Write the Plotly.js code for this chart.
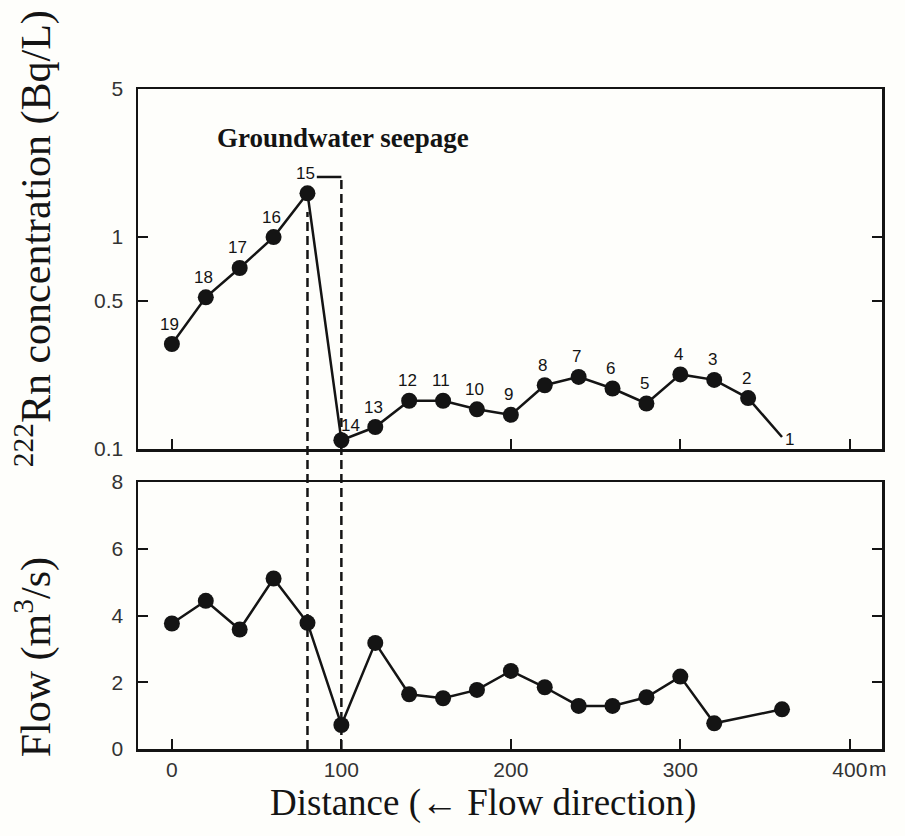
<!DOCTYPE html>
<html>
<head>
<meta charset="utf-8">
<script src="https://cdn.plot.ly/plotly-3.0.1.min.js"></script>
<style>html,body{margin:0;padding:0;background:#fefefb;}#chart{width:905px;height:836px;}</style>
</head>
<body>
<div id="chart"></div>
<script>
// ---- data ----
const distance = [0, 20, 40, 60, 80, 100, 120, 140, 160, 180, 200, 220, 240, 260, 280, 300, 320, 340, 360];
const stations = ['19','18','17','16','15','14','13','12','11','10','9','8','7','6','5','4','3','2','1'];
const radon = [0.313, 0.52, 0.715, 1.0, 1.61, 0.11, 0.127, 0.169, 0.169, 0.154, 0.145, 0.200, 0.219, 0.193, 0.164, 0.225, 0.212, 0.174, 0.114];

const flowDistance = [0, 20, 40, 60, 80, 100, 120, 140, 160, 180, 200, 220, 240, 260, 280, 300, 320, 360];
const flow = [3.76, 4.44, 3.58, 5.11, 3.78, 0.72, 3.18, 1.64, 1.52, 1.77, 2.34, 1.85, 1.29, 1.29, 1.55, 2.17, 0.77, 1.19];

const xTickVals = [0, 100, 200, 300, 400];
const xTickText = ['0', '100', '200', '300', '400'];
const rnTickVals = [0.1, 0.5, 1, 5];
const rnTickText = ['0.1', '0.5', '1', '5'];
const flowTickVals = [0, 2, 4, 6, 8];
const flowTickText = ['0', '2', '4', '6', '8'];

const seepageStart = distance[4];  // station 15
const seepageEnd = distance[5];    // station 14

// ---- styles ----
const ink = '#141414';
const serif = 'Liberation Serif, Times New Roman, serif';
const sans = 'Liberation Sans, Arial, sans-serif';
const narrow = 'Liberation Sans Narrow, Liberation Sans, Arial, sans-serif';

// marker on every station except the last one (line end only)
const rnMarkerSize = stations.map((s, i) => i === stations.length - 1 ? 0 : 16);

const traces = [
  {
    x: distance, y: radon, xaxis: 'x2', yaxis: 'y', type: 'scatter', mode: 'lines+markers',
    line: {color: ink, width: 2.5}, marker: {color: ink, size: rnMarkerSize, opacity: 1, line: {width: 0}},
    hoverinfo: 'x+y', showlegend: false, cliponaxis: false
  },
  {
    x: flowDistance, y: flow, xaxis: 'x', yaxis: 'y2', type: 'scatter', mode: 'lines+markers',
    line: {color: ink, width: 2.5}, marker: {color: ink, size: 16, opacity: 1},
    hoverinfo: 'x+y', showlegend: false
  }
];

const axisCommon = {
  showgrid: false, zeroline: false, showline: true, linecolor: ink, linewidth: 2.5,
  ticks: 'inside', ticklen: 10, tickwidth: 2, tickcolor: ink,
  tickfont: {family: sans, size: 21, color: '#333333'}
};

// station number labels
const stationAnnotations = stations.map((s, i) => {
  let xs = -2, ys = 20;
  if (s === '14') { xs = 9; ys = 15; }
  if (s === '1') { xs = 7; ys = -3; }
  return {
    x: distance[i], y: Math.log10(radon[i]), xref: 'x2', yref: 'y', text: s, showarrow: false,
    xshift: xs, yshift: ys, font: {family: narrow, size: 17, color: ink}
  };
});

const layout = {
  width: 905, height: 836,
  margin: {l: 138, r: 23, t: 89, b: 87},
  paper_bgcolor: '#fefefb', plot_bgcolor: '#fefefb',
  showlegend: false,
  xaxis: Object.assign({}, axisCommon, {
    domain: [0, 1], anchor: 'y2', range: [-20, 419], mirror: true,
    tickmode: 'array', tickvals: xTickVals, ticktext: xTickText, ticklabelstandoff: 0
  }),
  xaxis2: Object.assign({}, axisCommon, {
    domain: [0, 1], anchor: 'y', range: [-20, 419], matches: 'x', mirror: true,
    tickmode: 'array', tickvals: xTickVals, showticklabels: false
  }),
  yaxis: Object.assign({}, axisCommon, {
    domain: [0.4545, 1], anchor: 'x2', type: 'log', range: [-1, Math.log10(5)], mirror: 'ticks',
    tickmode: 'array', tickvals: rnTickVals, ticktext: rnTickText, ticklabelstandoff: 8
  }),
  yaxis2: Object.assign({}, axisCommon, {
    domain: [0, 0.4045], anchor: 'x', range: [0, 8], mirror: 'ticks',
    tickmode: 'array', tickvals: flowTickVals, ticktext: flowTickText, ticklabelstandoff: 8
  }),
  shapes: [
    {type: 'line', xref: 'x', yref: 'paper', x0: seepageStart, x1: seepageStart, y0: 0, y1: 0.8136,
     line: {color: ink, width: 2.5, dash: '9px,5px'}, layer: 'below'},
    {type: 'line', xref: 'x', yref: 'paper', x0: seepageEnd, x1: seepageEnd, y0: 0, y1: 0.8667,
     line: {color: ink, width: 2.5, dash: '9px,5px'}, layer: 'below'},
    {type: 'line', xref: 'x', yref: 'paper', x0: 85.5, x1: seepageEnd, y0: 0.8667, y1: 0.8667,
     line: {color: ink, width: 2.5}, layer: 'below'}
  ],
  annotations: stationAnnotations.concat([
    {xref: 'paper', yref: 'paper', x: 0.2755, y: 0.9258, text: 'Groundwater seepage', showarrow: false,
     xanchor: 'center', yanchor: 'middle', font: {family: serif, size: 27, color: ink, weight: 'bold'}},
    {xref: 'paper', yref: 'paper', x: 0.4637, y: -0.0818, text: 'Distance (\u2190 Flow direction)', showarrow: false,
     xanchor: 'center', yanchor: 'middle', font: {family: serif, size: 37, color: ink}},
    {xref: 'paper', yref: 'paper', x: -0.1398, y: 0.774, text: '<sup>222</sup>Rn concentration (Bq/L)', showarrow: false,
     textangle: -90, xanchor: 'center', yanchor: 'middle', font: {family: serif, size: 42, color: ink}},
    {xref: 'paper', yref: 'paper', x: -0.1398, y: 0.139, text: 'Flow (m<sup>3</sup>/s)', showarrow: false,
     textangle: -90, xanchor: 'center', yanchor: 'middle', font: {family: serif, size: 42, color: ink}},
    {xref: 'x', yref: 'paper', x: 400, y: -0.030, text: 'm', showarrow: false, xanchor: 'left', yanchor: 'middle',
     xshift: 17, font: {family: sans, size: 21, color: '#333333'}}
  ])
};

Plotly.newPlot('chart', traces, layout, {staticPlot: true, displayModeBar: false});
</script>
</body>
</html>
